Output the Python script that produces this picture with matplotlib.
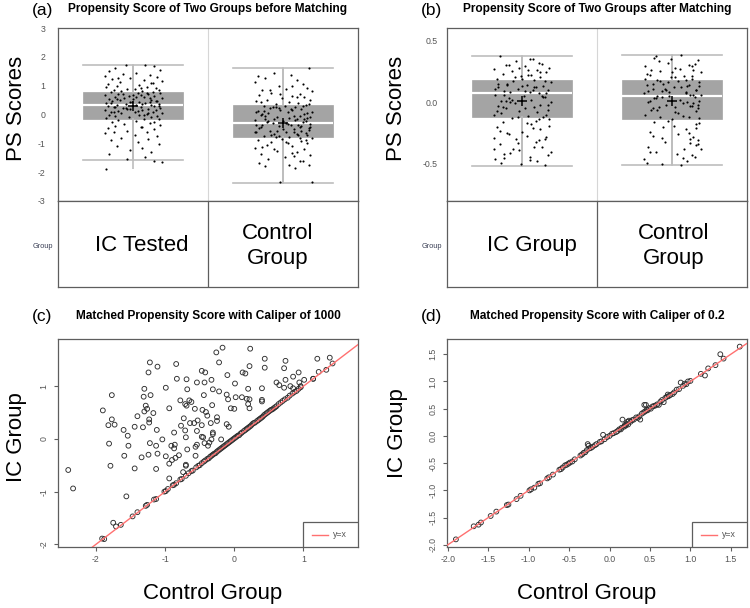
import matplotlib.pyplot as plt
import matplotlib.patches as mpatches
import matplotlib.lines as mlines

plt.rcParams['font.family'] = ['Liberation Sans', 'DejaVu Sans']

W, H = 750, 608

# ---------------- data ----------------
groups_a = ['IC Tested', 'Control\nGroup']
groups_b = ['IC Group', 'Control\nGroup']

# box statistics (median, q1, q3, whisker low, whisker high, mean)
stats_a = [
    dict(med=0.33, q1=-0.15, q3=0.78, whislo=-1.57, whishi=1.73, mean=0.28, fliers=[]),
    dict(med=-0.28, q1=-0.78, q3=0.33, whislo=-2.37, whishi=1.63, mean=-0.28, fliers=[]),
]
range_a = [(-1.90, 1.73), (-2.37, 1.63)]
stats_b = [
    dict(med=0.07, q1=-0.12, q3=0.18, whislo=-0.52, whishi=0.37, mean=0.01, fliers=[]),
    dict(med=0.05, q1=-0.14, q3=0.18, whislo=-0.51, whishi=0.38, mean=0.01, fliers=[]),
]
range_b = [(-0.52, 0.37), (-0.51, 0.38)]

# jittered PS scores, before matching
ic_a_y = [1.72, 1.70, 1.68, 1.62, 1.55, 1.50, 1.45, 1.40, 1.37, 1.33,
          1.30, 1.27, 1.22, 1.18, 1.15, 1.12, 1.08, 1.05, 1.02, 1.00,
          0.97, 0.95, 0.93, 0.90, 0.88, 0.86, 0.84, 0.82, 0.80, 0.79,
          0.77, 0.75, 0.73, 0.72, 0.70, 0.68, 0.66, 0.65, 0.63, 0.61,
          0.60, 0.58, 0.57, 0.55, 0.53, 0.52, 0.50, 0.48, 0.47, 0.45,
          0.44, 0.42, 0.40, 0.39, 0.37, 0.35, 0.34, 0.32, 0.30, 0.29,
          0.27, 0.25, 0.24, 0.22, 0.20, 0.19, 0.17, 0.15, 0.14, 0.12,
          0.10, 0.09, 0.07, 0.05, 0.04, 0.02, 0.00, -0.02, -0.04, -0.06,
          -0.08, -0.10, -0.12, -0.14, -0.17, -0.20, -0.23, -0.27, -0.30, -0.33,
          -0.36, -0.40, -0.44, -0.48, -0.52, -0.56, -0.60, -0.65, -0.70, -0.75,
          -0.80, -0.85, -0.90, -0.96, -1.02, -1.08, -1.15, -1.22, -1.30, -1.38,
          -1.47, -1.55, -1.62, -1.66, -1.90, 0.62, 0.36, 0.18, 0.55, 0.05,
          0.71, 0.48, 0.26, 0.13, -0.01, 0.58, 0.40, 0.31, 0.68, 0.22,
          0.93, 1.10, 1.25, 0.45, 0.08, -0.45, -0.62, 0.74, 0.33, -0.25]
ic_a_dx = [-0.05, 0.08, 0.14, -0.12, 0.18, -0.16, 0.02, -0.07, 0.11, -0.19,
           0.16, -0.02, -0.14, 0.07, 0.19, -0.09, 0.12, -0.17, 0.04, -0.11,
           0.09, -0.18, 0.15, -0.04, 0.01, 0.17, -0.13, 0.06, -0.08, 0.13,
           -0.15, 0.03, 0.18, -0.10, 0.10, -0.19, 0.05, -0.03, 0.14, -0.12,
           0.07, -0.06, 0.19, -0.16, 0.00, 0.12, -0.09, 0.16, -0.14, 0.04,
           -0.01, 0.11, -0.18, 0.08, -0.05, 0.17, -0.11, 0.02, 0.14, -0.17,
           0.05, -0.13, 0.18, -0.07, 0.10, -0.02, 0.15, -0.19, 0.06, -0.10,
           0.13, -0.15, 0.01, 0.19, -0.08, 0.09, -0.16, 0.04, -0.12, 0.16,
           -0.03, 0.12, -0.18, 0.07, 0.17, -0.10, 0.02, -0.14, 0.11, -0.06,
           0.18, -0.12, 0.05, -0.17, 0.14, -0.04, 0.09, -0.19, 0.01, 0.16,
           -0.08, 0.10, -0.15, 0.03, 0.17, -0.11, 0.06, -0.02, 0.12, -0.16,
           0.08, -0.04, 0.14, 0.19, -0.18, 0.02, 0.06, -0.04, -0.11, 0.10,
           -0.07, 0.15, -0.12, 0.03, 0.07, 0.11, -0.15, 0.17, 0.00, -0.05,
           0.05, 0.13, -0.10, -0.02, -0.13, 0.06, -0.13, 0.09, 0.12, 0.14]

ct_a_y = [1.63, 1.45, 1.38, 1.32, 1.25, 1.18, 1.12, 1.05, 0.98, 0.93,
          0.88, 0.84, 0.80, 0.76, 0.72, 0.68, 0.64, 0.60, 0.56, 0.52,
          0.49, 0.46, 0.43, 0.40, 0.37, 0.34, 0.31, 0.28, 0.25, 0.22,
          0.19, 0.16, 0.13, 0.10, 0.07, 0.04, 0.01, -0.02, -0.05, -0.08,
          -0.11, -0.14, -0.17, -0.20, -0.23, -0.26, -0.29, -0.32, -0.35, -0.38,
          -0.41, -0.44, -0.47, -0.50, -0.53, -0.56, -0.59, -0.62, -0.65, -0.68,
          -0.71, -0.74, -0.77, -0.80, -0.84, -0.88, -0.92, -0.96, -1.00, -1.05,
          -1.10, -1.15, -1.20, -1.25, -1.30, -1.36, -1.42, -1.48, -1.55, -1.62,
          -1.68, -1.74, -1.80, -1.87, -2.35, -2.33, 0.27, -0.18, -0.58, 0.12,
          -0.33, -0.70, 0.05, -0.45, 0.21, -0.09, -0.62, -0.27, 0.30, -0.52,
          -0.38, -0.15, -0.75, 0.15, -0.21, -0.48, 0.02, -0.66, -0.30, 0.25,
          -0.90, -1.20, -1.45, 0.60, 0.85, -0.05, -0.40, -0.78, 0.45, -1.00,
          -1.60, -1.75, 1.00, 0.70, -0.12, -0.36, -0.56, -0.24, 0.08, -0.82,
          -1.12, -1.35, 0.38, -0.60, -0.04, 0.18, -0.44, -0.70, -0.16, -0.95]
ct_a_dx = [0.17, -0.06, 0.05, -0.17, -0.12, 0.09, -0.19, 0.13, -0.03, 0.16,
           0.02, -0.14, 0.19, -0.08, 0.11, -0.16, 0.06, 0.14, -0.01, -0.11,
           0.18, -0.18, 0.04, 0.10, -0.05, 0.15, -0.13, 0.01, 0.08, -0.09,
           0.12, -0.02, -0.17, 0.19, 0.03, -0.10, 0.14, -0.15, 0.07, -0.04,
           0.16, -0.12, 0.09, -0.19, 0.00, 0.13, -0.07, 0.18, -0.14, 0.05,
           -0.03, 0.11, -0.16, 0.07, 0.17, -0.09, 0.02, -0.18, 0.15, -0.06,
           0.10, -0.13, 0.04, 0.19, -0.01, -0.17, 0.12, -0.08, 0.16, -0.11,
           0.06, -0.19, 0.14, -0.04, 0.09, -0.15, 0.18, 0.01, -0.10, 0.11,
           -0.16, 0.04, -0.12, 0.08, -0.02, 0.19, -0.05, 0.08, 0.12, -0.13,
           0.03, -0.08, 0.16, -0.15, -0.03, 0.18, 0.07, -0.11, 0.13, 0.00,
           -0.18, 0.14, -0.03, 0.06, -0.10, 0.17, -0.14, 0.09, 0.02, -0.07,
           0.15, -0.06, 0.07, 0.09, -0.09, -0.12, 0.12, -0.05, -0.15, 0.03,
           0.13, 0.17, 0.06, -0.02, 0.04, 0.10, -0.04, 0.15, -0.18, 0.11,
           -0.14, 0.06, 0.17, -0.19, 0.11, 0.05, 0.18, 0.16, -0.06, 0.02]

# jittered PS scores, after matching
ic_b_y = [0.37, 0.35, 0.33, 0.31, 0.30, 0.29, 0.28, 0.27, 0.26, 0.25,
          0.24, 0.23, 0.22, 0.21, 0.20, 0.19, 0.18, 0.17, 0.16, 0.15,
          0.14, 0.13, 0.12, 0.12, 0.11, 0.10, 0.09, 0.08, 0.08, 0.07,
          0.06, 0.05, 0.04, 0.03, 0.02, 0.01, 0.00, -0.01, -0.02, -0.03,
          -0.04, -0.05, -0.06, -0.07, -0.08, -0.10, -0.11, -0.12, -0.13, -0.14,
          -0.16, -0.18, -0.20, -0.22, -0.24, -0.26, -0.28, -0.30, -0.32, -0.34,
          -0.36, -0.38, -0.40, -0.42, -0.44, -0.46, -0.48, -0.50, -0.51, -0.27,
          0.32, 0.26, 0.20, 0.14, 0.10, 0.05, 0.00, -0.05, -0.09, -0.15,
          0.28, 0.17, 0.12, 0.06, 0.02, -0.19, -0.25, -0.33, -0.41, -0.47,
          0.22, 0.15, 0.09, 0.04, -0.02, -0.12, -0.21, -0.30, -0.38, -0.45,
          0.35, 0.19, 0.11, -0.04, -0.10, -0.14, -0.23, -0.29, -0.36, -0.43,
          0.30, 0.24, 0.13, 0.07, 0.01, -0.07, -0.17, -0.31, -0.39, -0.49]
ic_b_dx = [-0.15, 0.07, -0.04, 0.13, -0.11, 0.02, 0.18, -0.19, 0.10, -0.07,
           0.16, -0.13, 0.04, -0.01, 0.12, -0.17, 0.08, -0.06, 0.19, -0.10,
           0.03, 0.14, -0.16, 0.09, -0.03, 0.17, -0.12, 0.05, -0.08, 0.11,
           -0.18, 0.01, 0.15, -0.09, 0.06, -0.14, 0.19, -0.05, 0.12, -0.16,
           0.08, -0.11, 0.17, -0.02, 0.10, -0.19, 0.04, 0.14, -0.07, 0.18,
           -0.13, 0.06, -0.17, 0.12, 0.00, -0.09, 0.16, -0.04, 0.09, -0.15,
           0.13, -0.06, 0.19, -0.12, 0.05, -0.18, 0.10, -0.01, 0.15, 0.03,
           0.11, 0.04, -0.05, -0.10, 0.07, 0.13, -0.08, 0.02, -0.14, 0.09,
           -0.02, 0.15, 0.08, -0.12, -0.07, 0.18, -0.10, -0.03, -0.08, 0.05,
           0.06, -0.16, 0.02, 0.14, 0.17, -0.03, 0.07, 0.15, -0.19, -0.12,
           0.05, 0.00, -0.18, -0.13, 0.16, 0.11, -0.15, -0.19, 0.08, 0.17,
           -0.09, 0.12, 0.00, 0.16, -0.11, -0.17, 0.03, 0.11, -0.02, -0.14]

ct_b_y = [0.38, 0.36, 0.34, 0.32, 0.30, 0.29, 0.28, 0.26, 0.25, 0.24,
          0.22, 0.21, 0.20, 0.19, 0.18, 0.17, 0.16, 0.15, 0.14, 0.13,
          0.12, 0.11, 0.10, 0.09, 0.08, 0.07, 0.06, 0.05, 0.04, 0.03,
          0.02, 0.01, 0.00, -0.01, -0.02, -0.03, -0.04, -0.05, -0.06, -0.08,
          -0.10, -0.12, -0.14, -0.16, -0.18, -0.20, -0.22, -0.24, -0.26, -0.28,
          -0.30, -0.32, -0.34, -0.36, -0.38, -0.40, -0.42, -0.44, -0.46, -0.48,
          -0.50, -0.51, 0.33, 0.27, 0.21, 0.15, 0.10, 0.06, 0.00, -0.06,
          -0.11, 0.31, 0.23, 0.17, 0.12, 0.08, 0.03, -0.03, -0.13, -0.35,
          0.35, 0.20, 0.14, 0.09, 0.04, -0.01, -0.07, -0.19, -0.27, -0.31,
          0.26, 0.18, 0.11, 0.05, -0.02, -0.09, -0.15, -0.25, -0.40, -0.45,
          0.29, 0.19, 0.13, 0.07, 0.01, -0.04, -0.12, -0.21, -0.33, -0.38,
          0.37, 0.24, 0.16, 0.10, 0.06, -0.05, -0.17, -0.29, -0.43, -0.49]
ct_b_dx = [0.06, -0.12, 0.17, -0.03, 0.11, -0.18, 0.02, 0.14, -0.08, 0.19,
           -0.15, 0.08, -0.01, 0.13, -0.10, 0.04, 0.18, -0.06, -0.17, 0.10,
           0.01, -0.13, 0.16, -0.07, 0.09, -0.19, 0.12, -0.02, 0.15, -0.11,
           0.05, 0.18, -0.16, 0.07, -0.04, 0.13, -0.09, 0.17, -0.14, 0.02,
           -0.18, 0.11, 0.00, -0.12, 0.16, -0.06, 0.09, -0.15, 0.04, 0.14,
           0.12, -0.05, 0.17, -0.16, 0.08, -0.11, 0.03, 0.15, -0.19, 0.10,
           -0.07, 0.06, -0.09, 0.05, 0.13, -0.13, -0.04, 0.19, 0.10, -0.10,
           0.07, 0.15, -0.17, -0.08, 0.06, -0.02, -0.12, 0.12, 0.18, 0.16,
           -0.01, 0.02, 0.11, -0.16, -0.07, 0.14, 0.16, 0.01, -0.13, 0.17,
           -0.14, 0.09, -0.05, -0.10, 0.17, 0.04, -0.03, 0.11, -0.15, 0.07,
           0.13, -0.18, 0.18, 0.09, -0.15, 0.02, -0.08, 0.16, 0.12, 0.19,
           -0.11, 0.00, -0.03, 0.16, 0.14, -0.13, 0.18, -0.07, 0.13, -0.17]

# matched pairs, caliper 1000 (control PS, IC PS)
c_off_x = [-0.17, -0.26, 0.23, -0.22, -0.84, -1.22, -1.11, -1.24, 0.22, 0.44,
           0.74, 1.20, 1.38, 1.42, 1.33, 1.22, 0.44, 0.72, -0.47, -0.42,
           0.12, 0.16, -0.10, 0.93, 0.85, 0.74, 1.14, 1.01, 0.94, 0.96,
           -0.83, -0.69, -0.33, -0.54, -0.43, 0.01, 0.61, 0.65, -1.30, -0.99,
           -0.68, -0.31, -0.22, 0.20, 0.40, 0.72, 0.81, 0.85, -1.77, -1.21,
           -1.31, -0.44, -0.11, -0.09, 0.02, 0.11, 0.18, 0.22, 0.40, 0.40,
           -0.78, -0.65, -0.62, -0.71, -0.69, -0.32, 0.20, 0.22, -0.05, 0.00,
           -1.90, -1.28, -1.26, -1.30, -1.17, -0.94, -0.57, -0.46, -0.41, -0.39,
           -1.40, -1.23, -1.23, -0.73, -1.77, -1.73, -1.82, -0.53, -0.25, -0.25,
           -0.34, -0.11, -0.08, -0.64, -0.58, -0.77, -0.47, -1.60, -1.32, -1.44,
           -1.12, -0.87, -0.71, -0.54, -0.31, -0.31, -0.47, -0.45, -0.33, -0.19,
           -1.54, -1.04, -0.70, -1.81, -1.22, -1.13, -1.53, -0.91, -0.86, -0.54,
           -0.43, -0.36, -0.38, -0.87, -0.68, -0.56, -1.59, -1.24, -1.34, -1.11,
           -0.99, -0.85, -0.80, -0.90, -0.56, -0.94, -1.79, -1.44, -1.13, -0.70,
           -0.70, -0.74, -2.40, -2.33, -0.94, -1.56, -1.75, -1.71, -1.64, -1.91]
c_off_y = [1.73, 1.64, 1.71, 1.45, 1.42, 1.45, 1.37, 1.26, 1.38, 1.52,
           1.48, 1.52, 1.54, 1.43, 1.31, 1.27, 1.35, 1.34, 1.29, 1.26,
           1.26, 1.24, 1.21, 1.26, 1.18, 1.12, 1.14, 1.12, 1.07, 1.00,
           1.14, 1.13, 1.12, 1.07, 1.07, 1.05, 1.07, 1.02, 0.95, 0.97,
           0.94, 0.94, 0.90, 0.95, 0.96, 0.97, 1.00, 0.96, 0.83, 0.83,
           0.80, 0.83, 0.84, 0.75, 0.79, 0.79, 0.76, 0.75, 0.74, 0.71,
           0.73, 0.73, 0.70, 0.66, 0.63, 0.64, 0.66, 0.58, 0.58, 0.57,
           0.54, 0.63, 0.57, 0.52, 0.49, 0.58, 0.57, 0.55, 0.51, 0.44,
           0.43, 0.37, 0.31, 0.39, 0.37, 0.27, 0.26, 0.35, 0.41, 0.34,
           0.30, 0.28, 0.23, 0.30, 0.30, 0.25, 0.26, 0.17, 0.22, 0.23,
           0.17, 0.12, 0.16, 0.15, 0.12, 0.09, 0.04, 0.03, -0.01, -0.01,
           0.06, -0.01, 0.03, -0.09, -0.08, -0.13, -0.13, -0.13, -0.11, -0.11,
           -0.08, -0.07, -0.13, -0.18, -0.20, -0.15, -0.32, -0.30, -0.35, -0.28,
           -0.33, -0.36, -0.31, -0.40, -0.32, -0.47, -0.51, -0.56, -0.57, -0.49,
           -0.51, -0.63, -0.59, -0.94, -0.75, -1.09, -1.59, -1.66, -1.63, -1.89]
c_diag_x = [-1.88, -1.47, -1.40, -1.28, -1.26, -1.16, -1.13, -1.01, -0.99, -0.96,
            -0.89, -0.87, -0.84, -0.78, -0.76, -0.70, -0.66, -0.62, -0.60, -0.55,
            -0.52, -0.50, -0.47, -0.44, -0.42, -0.39, -0.37, -0.35, -0.33, -0.31,
            -0.29, -0.27, -0.25, -0.23, -0.21, -0.19, -0.17, -0.15, -0.13, -0.11,
            -0.09, -0.07, -0.05, -0.03, -0.01, 0.01, 0.03, 0.05, 0.07, 0.09,
            0.11, 0.14, 0.16, 0.18, 0.20, 0.22, 0.24, 0.26, 0.28, 0.30,
            0.33, 0.35, 0.37, 0.39, 0.41, 0.43, 0.45, 0.47, 0.49, 0.51,
            0.53, 0.55, 0.57, 0.59, 0.61, 0.64, 0.67, 0.70, 0.73, 0.77,
            0.80, 0.84, 0.87, 0.90, 0.93, 0.96, 1.14]
c_diag_y = [-1.90, -1.47, -1.39, -1.27, -1.25, -1.15, -1.14, -1.00, -0.99, -0.95,
            -0.88, -0.87, -0.84, -0.77, -0.76, -0.70, -0.65, -0.61, -0.60, -0.54,
            -0.51, -0.50, -0.46, -0.43, -0.41, -0.38, -0.37, -0.34, -0.32, -0.30,
            -0.28, -0.27, -0.24, -0.22, -0.20, -0.18, -0.16, -0.14, -0.12, -0.10,
            -0.08, -0.06, -0.04, -0.02, 0.00, 0.02, 0.04, 0.06, 0.07, 0.10,
            0.12, 0.15, 0.17, 0.19, 0.21, 0.23, 0.25, 0.28, 0.30, 0.31,
            0.34, 0.36, 0.38, 0.40, 0.42, 0.45, 0.47, 0.49, 0.51, 0.53,
            0.55, 0.56, 0.58, 0.60, 0.62, 0.66, 0.69, 0.72, 0.75, 0.78,
            0.82, 0.86, 0.89, 0.91, 0.95, 0.98, 1.14]

# matched pairs, caliper 0.2
d_x = [-1.90, -1.68, -1.62, -1.59, -1.47, -1.40, -1.27, -1.25, -1.15, -1.10,
       -0.99, -0.97, -0.93, -0.88, -0.86, -0.77, -0.75, -0.70, -0.62, -0.60,
       -0.58, -0.55, -0.53, -0.51, -0.49, -0.46, -0.43, -0.36, -0.34, -0.32,
       -0.30, -0.28, -0.27, -0.26, -0.25, -0.23, -0.21, -0.18, -0.16, -0.12,
       -0.10, -0.08, -0.06, -0.03, 0.00, 0.03, 0.05, 0.08, 0.10, 0.12,
       0.14, 0.15, 0.16, 0.18, 0.19, 0.20, 0.21, 0.22, 0.23, 0.24,
       0.26, 0.28, 0.30, 0.33, 0.35, 0.37, 0.38, 0.40, 0.42, 0.43,
       0.44, 0.45, 0.46, 0.47, 0.49, 0.51, 0.53, 0.55, 0.57, 0.59,
       0.61, 0.63, 0.65, 0.67, 0.69, 0.71, 0.72, 0.73, 0.75, 0.78,
       0.80, 0.83, 0.86, 0.88, 0.91, 0.93, 0.95, 0.97, 1.00, 1.13,
       1.18, 1.22, 1.31, 1.37, 1.41, 1.61]
d_y = [-1.90, -1.66, -1.63, -1.59, -1.47, -1.39, -1.27, -1.26, -1.16, -1.10,
       -1.00, -0.98, -0.95, -0.88, -0.87, -0.78, -0.76, -0.71, -0.62, -0.61,
       -0.58, -0.54, -0.53, -0.51, -0.49, -0.47, -0.43, -0.36, -0.34, -0.31,
       -0.30, -0.26, -0.15, -0.18, -0.23, -0.22, -0.20, -0.17, -0.15, -0.11,
       -0.10, 0.02, -0.06, -0.02, 0.00, 0.04, 0.05, 0.07, 0.09, 0.12,
       0.12, 0.15, 0.30, 0.17, 0.20, 0.19, 0.22, 0.26, 0.21, 0.28,
       0.26, 0.29, 0.30, 0.34, 0.33, 0.36, 0.30, 0.41, 0.43, 0.57,
       0.45, 0.57, 0.48, 0.47, 0.51, 0.50, 0.54, 0.55, 0.56, 0.58,
       0.57, 0.63, 0.66, 0.62, 0.70, 0.72, 0.76, 0.73, 0.75, 0.77,
       0.80, 0.85, 0.86, 0.98, 0.92, 0.96, 0.95, 1.00, 1.01, 1.14,
       1.11, 1.24, 1.30, 1.50, 1.42, 1.64]

# ---------------- styling ----------------
FRAME = '#5e5e5e'
TICKC = '#555555'
BOXC = '#a4a4a4'
WHISK = '#bdbdbd'


def rect(l, t, r, b):
    # pixel box -> figure fraction
    return [l / W, 1 - b / H, (r - l) / W, (b - t) / H]


def frame(ax):
    for s in ax.spines.values():
        s.set_color(FRAME)
        s.set_linewidth(0.9)


fig = plt.figure(figsize=(W / 100, H / 100), dpi=100)
fig.patch.set_facecolor('white')


def box_panel(l, r, letter, title, stats, rng, pts, names, name_fx,
              ylim, yticks, ylabels, ypad, ylab_x):
    ax = fig.add_axes(rect(l, 28, r, 201))
    tab = fig.add_axes(rect(l, 201, r, 287))
    frame(ax)
    frame(tab)
    ax.set_xlim(0.5, 2.5)
    ax.set_ylim(*ylim)
    ax.axvline(1.5, color='#d6d6d6', lw=0.8, zorder=0)
    for i, (lo, hi) in enumerate(rng):
        ax.vlines(i + 1, lo, hi, color=WHISK, lw=1.2, zorder=1)
    ax.bxp(stats, positions=[1, 2], widths=0.667, capwidths=0.667,
           patch_artist=True, showmeans=False, showfliers=False,
           boxprops=dict(facecolor=BOXC, edgecolor=BOXC, lw=0.5),
           medianprops=dict(color='white', lw=1.6),
           whiskerprops=dict(color=WHISK, lw=1.2),
           capprops=dict(color=WHISK, lw=1.2),
           zorder=2)
    for i, (dx, yy) in enumerate(pts):
        ax.scatter([i + 1 + d for d in dx], yy, s=2.4, color='black',
                   linewidths=0, zorder=3)
    # mean marker on top of the points
    for i, st in enumerate(stats):
        ax.plot(i + 1, st['mean'], marker='+', color='black', ms=7, mew=1.1,
                zorder=4)
    ax.set_xticks([])
    ax.set_yticks(yticks)
    ax.set_yticklabels(ylabels)
    ax.tick_params(axis='y', length=0, pad=ypad, labelsize=6.3,
                   labelcolor=TICKC)

    tab.set_xlim(0, 1)
    tab.set_ylim(0, 1)
    tab.set_xticks([])
    tab.set_yticks([])
    tab.axvline(0.5, color=FRAME, lw=0.9)
    for nm, fx in zip(names, name_fx):
        tab.text(fx, 0.48, nm, ha='center', va='center', fontsize=16,
                 linespacing=1.25, color='black')
    fig.text((l - 25) / W, 1 - 246 / H, 'Group', ha='left', va='center',
             fontsize=5.3, color='#3a3f55')

    fig.text(ylab_x / W, 1 - 108 / H, 'PS Scores', rotation=90,
             ha='center', va='center', fontsize=16)
    fig.text((l + r) / 2 / W, 1 - 9 / H, title, ha='center', va='center',
             fontsize=8.6, fontweight='bold')
    fig.text((l - 26) / W, 1 - 10 / H, letter, ha='left', va='center',
             fontsize=12.5)
    return ax


box_panel(58, 358, '(a)', 'Propensity Score of Two Groups before Matching',
          stats_a, range_a, [(ic_a_dx, ic_a_y), (ct_a_dx, ct_a_y)],
          groups_a, [0.279, 0.733], (-3, 3), [3, 2, 1, 0, -1, -2, -3],
          ['3', '2', '1', '0', '-1', '-2', '-3'], 9, 17)

box_panel(447, 747, '(b)', 'Propensity Score of Two Groups after Matching',
          stats_b, range_b, [(ic_b_dx, ic_b_y), (ct_b_dx, ct_b_y)],
          groups_b, [0.282, 0.757], (-0.8, 0.6), [0.5, 0.0, -0.5],
          ['0.5', '0.0', '-0.5'], 6.5, 397)


def scatter_panel(l, r, letter, title, xs, ys, xlim, ylim, ticks, tlabels,
                  ylab_x, ylab_y, xlab_x):
    ax = fig.add_axes(rect(l, 339, r, 547))
    frame(ax)
    ax.set_xlim(*xlim)
    ax.set_ylim(*ylim)
    ax.scatter(xs, ys, s=12, facecolors='none', edgecolors='#2e2e2e',
               linewidths=0.65, zorder=2)
    ax.axline((0, 0), slope=1, color='#ff7070', lw=1.0, zorder=3)
    ax.set_xticks(ticks)
    ax.set_xticklabels(tlabels)
    ax.set_yticks(ticks)
    ax.set_yticklabels(tlabels, rotation=90, va='center')
    ax.tick_params(length=3, width=0.8, color=FRAME, labelsize=6.3,
                   labelcolor=TICKC)
    ax.tick_params(axis='x', pad=2.5)
    ax.tick_params(axis='y', pad=4)

    # legend box in the lower right corner
    ax.add_patch(mpatches.Rectangle((0.817, 0.0), 0.183, 0.12,
                                    transform=ax.transAxes, facecolor='white',
                                    edgecolor=FRAME, lw=0.9, zorder=5))
    ax.add_line(mlines.Line2D([0.847, 0.90], [0.058, 0.058],
                              transform=ax.transAxes, color='#ff7070',
                              lw=1.0, zorder=6))
    ax.text(0.917, 0.058, 'y=x', transform=ax.transAxes, ha='left',
            va='center', fontsize=6.3, color='#555555', zorder=6)

    fig.text(ylab_x / W, 1 - ylab_y / H, 'IC Group', rotation=90,
             ha='center', va='center', fontsize=16)
    fig.text(xlab_x / W, 1 - 593 / H, 'Control Group', ha='center',
             va='center', fontsize=16)
    fig.text((l + r) / 2 / W, 1 - 316 / H, title, ha='center', va='center',
             fontsize=8.6, fontweight='bold')
    fig.text((l - 26) / W, 1 - 316 / H, letter, ha='left', va='center',
             fontsize=12.5)
    return ax


scatter_panel(58, 358, '(c)', 'Matched Propensity Score with Caliper of 1000',
              c_off_x + c_diag_x, c_off_y + c_diag_y,
              (-2.548, 1.788), (-2.05, 1.894), [-2, -1, 0, 1],
              ['-2', '-1', '0', '1'], 17, 437, 213)

scatter_panel(447, 747, '(d)', 'Matched Propensity Score with Caliper of 0.2',
              d_x, d_y, (-2.01, 1.70), (-2.04, 1.78),
              [-2.0, -1.5, -1.0, -0.5, 0.0, 0.5, 1.0, 1.5],
              ['-2.0', '-1.5', '-1.0', '-0.5', '0.0', '0.5', '1.0', '1.5'],
              398, 433, 587)

fig.savefig('out.png', dpi=100, facecolor='white')
